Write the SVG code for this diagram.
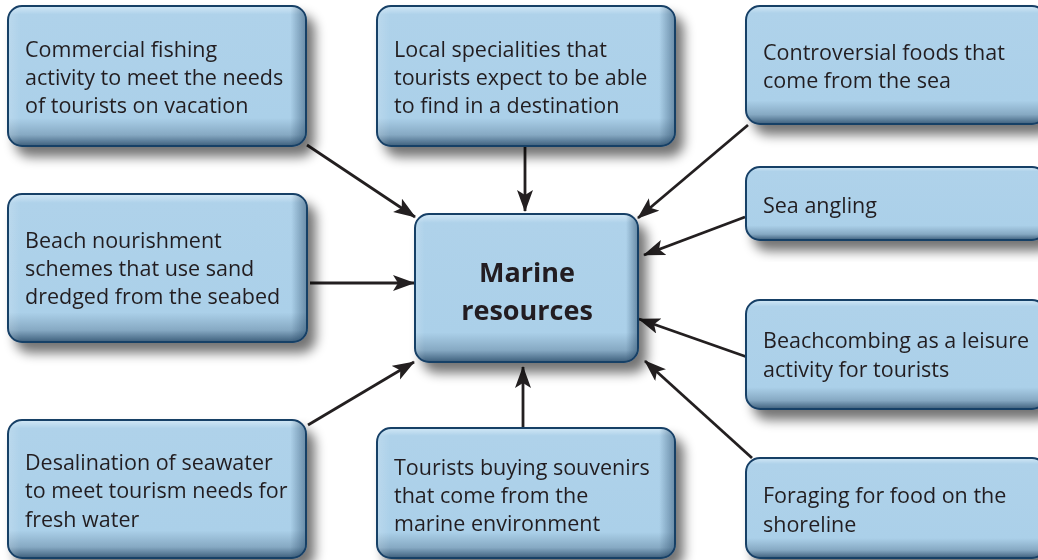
<svg xmlns="http://www.w3.org/2000/svg" width="1038" height="560" viewBox="0 0 1038 560">
<defs>
<linearGradient id="gv" x1="0" y1="0" x2="0" y2="1">
<stop offset="0" stop-color="#d2e8f6"/>
<stop offset="0.06" stop-color="#afd2ea"/>
<stop offset="0.80" stop-color="#abd0e9"/>
<stop offset="0.92" stop-color="#86a9c3"/>
<stop offset="1" stop-color="#3e5f7c"/>
</linearGradient>
<linearGradient id="gh" x1="0" y1="0" x2="1" y2="0">
<stop offset="0" stop-color="#ffffff" stop-opacity="0.15"/>
<stop offset="0.04" stop-color="#ffffff" stop-opacity="0"/>
<stop offset="0.95" stop-color="#1d3f5e" stop-opacity="0"/>
<stop offset="1" stop-color="#1d3f5e" stop-opacity="0.45"/>
</linearGradient>
<filter id="sh" x="-10%" y="-10%" width="130%" height="140%">
<feGaussianBlur in="SourceAlpha" stdDeviation="6"/>
<feOffset dx="8" dy="10" result="b"/>
<feComponentTransfer><feFuncA type="linear" slope="0.55"/></feComponentTransfer>
<feMerge><feMergeNode/><feMergeNode in="SourceGraphic"/></feMerge>
</filter>
<marker id="ah" markerUnits="userSpaceOnUse" markerWidth="24" markerHeight="18" refX="21" refY="8" orient="auto">
<path d="M0,0 L22,8 L0,16 L5,8 Z" fill="#231f20"/>
</marker>
</defs>
<style>
.box{fill:url(#gv);stroke:#163f66;stroke-width:2}
.hl{fill:url(#gh);stroke:none}
.t{font-family:"Open Sans","Noto Sans",sans-serif;font-size:21.5px;fill:#231f20}
.c{font-family:"Open Sans","Noto Sans",sans-serif;font-size:27px;font-weight:bold;fill:#231f20;text-anchor:middle}
.ln{stroke:#231f20;stroke-width:2.8;fill:none;marker-end:url(#ah)}
</style>
<rect width="1038" height="560" fill="#ffffff"/>
<g id="connectors">
<line class="ln" x1="307" y1="145" x2="415" y2="217"/>
<line class="ln" x1="525" y1="147" x2="525" y2="211"/>
<line class="ln" x1="748" y1="125" x2="638" y2="218"/>
<line class="ln" x1="745" y1="217" x2="644" y2="255"/>
<line class="ln" x1="310" y1="283" x2="414" y2="283"/>
<line class="ln" x1="747" y1="357" x2="639" y2="319"/>
<line class="ln" x1="308" y1="425" x2="414" y2="362"/>
<line class="ln" x1="523" y1="428" x2="523" y2="367"/>
<line class="ln" x1="752" y1="458" x2="645" y2="361"/>
</g>
<g id="n1" filter="url(#sh)">
<rect class="box" x="8" y="6" width="298" height="140" rx="14"/>
<rect class="hl" x="9" y="7" width="296" height="138" rx="13"/>
<text class="t" x="25" y="57">Commercial fishing</text>
<text class="t" x="25" y="85">activity to meet the needs</text>
<text class="t" x="25" y="113">of tourists on vacation</text>
</g>
<g id="n2" filter="url(#sh)">
<rect class="box" x="377" y="6" width="298" height="140" rx="14"/>
<rect class="hl" x="378" y="7" width="296" height="138" rx="13"/>
<text class="t" x="394" y="57">Local specialities that</text>
<text class="t" x="394" y="85">tourists expect to be able</text>
<text class="t" x="394" y="113">to find in a destination</text>
</g>
<g id="n3" filter="url(#sh)">
<rect class="box" x="746" y="6" width="300" height="118" rx="14"/>
<text class="t" x="763" y="60">Controversial foods that</text>
<text class="t" x="763" y="88">come from the sea</text>
</g>
<g id="n4" filter="url(#sh)">
<rect class="box" x="746" y="167" width="300" height="73" rx="14"/>
<text class="t" x="763" y="213">Sea angling</text>
</g>
<g id="n5" filter="url(#sh)">
<rect class="box" x="8" y="194" width="299" height="148" rx="14"/>
<rect class="hl" x="9" y="195" width="297" height="146" rx="13"/>
<text class="t" x="25" y="248">Beach nourishment</text>
<text class="t" x="25" y="276">schemes that use sand</text>
<text class="t" x="25" y="304">dredged from the seabed</text>
</g>
<g id="center" filter="url(#sh)">
<rect class="box" x="415" y="214" width="223" height="148" rx="14"/>
<rect class="hl" x="416" y="215" width="221" height="146" rx="13"/>
<text class="c" x="527" y="282">Marine</text>
<text class="c" x="527" y="320">resources</text>
</g>
<g id="n6" filter="url(#sh)">
<rect class="box" x="746" y="300" width="300" height="109" rx="14"/>
<text class="t" x="763" y="348">Beachcombing as a leisure</text>
<text class="t" x="763" y="377">activity for tourists</text>
</g>
<g id="n7" filter="url(#sh)">
<rect class="box" x="8" y="420" width="298" height="138" rx="14"/>
<rect class="hl" x="9" y="421" width="296" height="136" rx="13"/>
<text class="t" x="25" y="470">Desalination of seawater</text>
<text class="t" x="25" y="498">to meet tourism needs for</text>
<text class="t" x="25" y="527">fresh water</text>
</g>
<g id="n8" filter="url(#sh)">
<rect class="box" x="377" y="428" width="298" height="130" rx="14"/>
<rect class="hl" x="378" y="429" width="296" height="128" rx="13"/>
<text class="t" x="394" y="475">Tourists buying souvenirs</text>
<text class="t" x="394" y="503">that come from the</text>
<text class="t" x="394" y="531">marine environment</text>
</g>
<g id="n9" filter="url(#sh)">
<rect class="box" x="746" y="458" width="300" height="100" rx="14"/>
<text class="t" x="763" y="503">Foraging for food on the</text>
<text class="t" x="763" y="532">shoreline</text>
</g>
</svg>
